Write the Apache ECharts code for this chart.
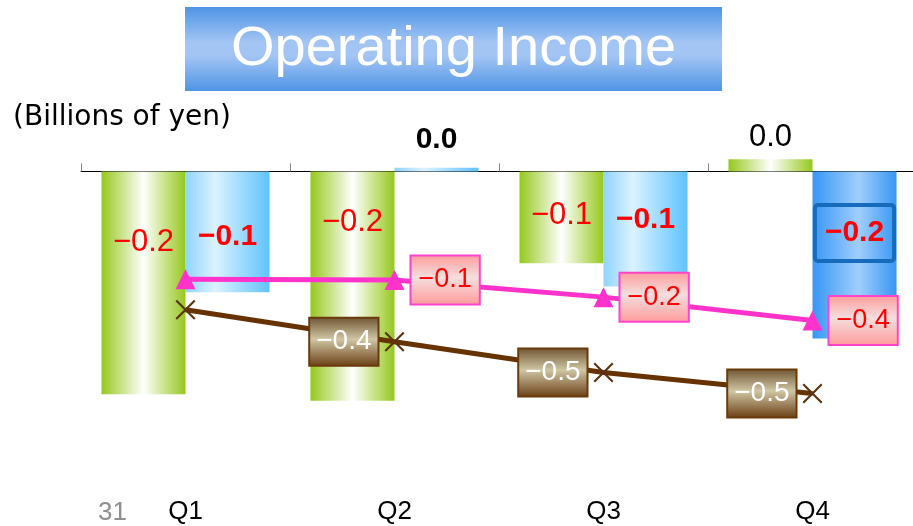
<!DOCTYPE html>
<html><head><meta charset="utf-8">
<script src="https://cdn.jsdelivr.net/npm/echarts@6/dist/echarts.min.js"></script>
<style>html,body{margin:0;padding:0;background:#fff}#c{width:913px;height:526px}</style>
</head><body><div id="c"></div>
<script>
// ---- data ----
const categories = ['Q1', 'Q2', 'Q3', 'Q4'];
const greenValues = [-0.24, -0.247, -0.099, 0.013];
const blueValues = [-0.13, 0.004, -0.124, -0.18];
const pinkValues = [-0.14, -0.145, -0.24, -0.37];
const brownValues = [-0.25, -0.36, -0.466, -0.538];
const pinkLabelShown = [false, true, true, true];
const brownLabelShown = [false, true, true, true];
const titleText = 'Operating Income';
const unitText = '(Billions of yen)';
const pageNumber = '31';

// ---- styles ----
const FONT = '"Liberation Sans", Arial, sans-serif';
const greenLabelShift = [-40, -64, -2, -28];
const blueLabelShift = [5, -30, -9, -22];
const fmt = v => (v < -0.0499 ? '\u2212' : '') + Math.abs(v).toFixed(1);
const isZero = v => Math.abs(v) < 0.05;

const hGrad = stops => ({type: 'linear', x: 0, y: 0, x2: 1, y2: 0,
  colorStops: stops.map(s => ({offset: s[0], color: s[1]}))});
const vGrad = stops => ({type: 'linear', x: 0, y: 0, x2: 0, y2: 1,
  colorStops: stops.map(s => ({offset: s[0], color: s[1]}))});

const greenFill = hGrad([[0, '#96c81e'], [0.5, '#ffffff'], [1, '#96c81e']]);
const blueFill = hGrad([[0, '#8fd4fc'], [0.35, '#dbf2fe'], [1, '#5fc3fd']]);
const blueStrongFill = hGrad([[0, '#3797f4'], [0.55, '#a0cefb'], [1, '#3797f4']]);
const pinkBox = vGrad([[0, '#ff9a9a'], [0.45, '#f5dede'], [1, '#ff9a9a']]);
const brownBox = vGrad([[0, '#6e5230'], [0.45, '#cfc6a4'], [1, '#6a3d12']]);

const greenData = greenValues.map((v, i) => ({
  value: v,
  label: {offset: [0, greenLabelShift[i]], color: isZero(v) ? '#000' : '#ff0000'}
}));
const blueData = blueValues.map((v, i) => {
  const item = {
    value: v,
    label: {offset: [0, blueLabelShift[i]], color: isZero(v) ? '#000' : '#ff0000'}
  };
  if (i === 3) {
    item.itemStyle = {color: blueStrongFill};
    Object.assign(item.label, {borderColor: '#176bbd', borderWidth: 4, borderRadius: 3, padding: [13, 10]});
  }
  return item;
});
const pinkData = pinkValues.map((v, i) => ({value: v, label: {show: pinkLabelShown[i]}}));
const brownData = brownValues.map((v, i) => ({value: v, label: {show: brownLabelShown[i]}}));

const xMark = 'path://M0,1.5L1.5,0L10,8.5L18.5,0L20,1.5L11.5,10L20,18.5L18.5,20L10,11.5L1.5,20L0,18.5L8.5,10Z';

const chart = echarts.init(document.getElementById('c'), null, {renderer: 'canvas'});
chart.setOption({
  animation: false,
  backgroundColor: '#ffffff',
  grid: {left: 81, top: 125, width: 836, height: 325, outerBoundsMode: 'none', containLabel: false},
  xAxis: [
    {
      type: 'category', data: categories, position: 'bottom',
      axisLine: {show: true, onZero: true, onZeroAxisIndex: 0, lineStyle: {color: '#000', width: 1}},
      axisTick: {show: true, inside: true, length: 8, lineStyle: {color: '#888'}},
      axisLabel: {show: false}, splitLine: {show: false}
    },
    {
      type: 'category', data: categories, position: 'bottom',
      axisLine: {show: false, onZero: false}, axisTick: {show: false}, splitLine: {show: false},
      axisLabel: {show: true, margin: 49, fontSize: 26, color: '#000', fontFamily: FONT}
    }
  ],
  yAxis: [
    {type: 'value', min: -0.3, max: 0.05, show: false},
    {type: 'value', min: -1.089, max: 0.716, show: false},
    {type: 'value', min: -0.733, max: 0.387, show: false}
  ],
  series: [
    {
      type: 'bar', xAxisIndex: 0, yAxisIndex: 0, data: greenData,
      barGap: '0%', barCategoryGap: '19.6%',
      itemStyle: {color: greenFill},
      label: {show: true, position: 'inside', formatter: p => fmt(p.value),
        fontSize: 31, fontFamily: FONT, fontWeight: 'normal'}
    },
    {
      type: 'bar', xAxisIndex: 0, yAxisIndex: 0, data: blueData,
      barGap: '0%', barCategoryGap: '19.6%',
      itemStyle: {color: blueFill},
      label: {show: true, position: 'inside', formatter: p => fmt(p.value),
        fontSize: 30, fontFamily: FONT, fontWeight: 'bold'}
    },
    {
      type: 'line', xAxisIndex: 0, yAxisIndex: 1, data: pinkData,
      symbol: 'triangle', symbolSize: 20,
      lineStyle: {color: '#ff33cc', width: 5}, itemStyle: {color: '#ff33cc'},
      label: {position: 'right', distance: 7, formatter: p => fmt(p.value),
        fontSize: 27, fontFamily: FONT, color: '#ff0000',
        backgroundColor: pinkBox, borderColor: '#ff44cc', borderWidth: 2, padding: [10, 7]}
    },
    {
      type: 'line', xAxisIndex: 0, yAxisIndex: 2, data: brownData,
      symbol: xMark, symbolSize: 20,
      lineStyle: {color: '#663300', width: 5}, itemStyle: {color: '#5a3310'},
      label: {position: 'left', distance: 7, formatter: p => fmt(p.value),
        fontSize: 28, fontFamily: FONT, color: '#ffffff',
        backgroundColor: brownBox, borderColor: '#6a3a0a', borderWidth: 2, padding: [9, 6]}
    }
  ],
  graphic: [
    {type: 'rect', shape: {x: 185, y: 7, width: 537, height: 84},
      style: {fill: vGrad([[0, '#4f94e5'], [0.42, '#a3c5f4'], [0.58, '#a3c5f4'], [1, '#4f94e5']])}},
    {type: 'text', x: 453.5, y: 50,
      style: {text: titleText, fill: '#ffffff', font: '56px ' + FONT, textAlign: 'center', textVerticalAlign: 'middle'}},
    {type: 'text', x: 13, y: 118,
      style: {text: unitText, fill: '#000', font: '28px "DejaVu Sans", sans-serif', textAlign: 'left', textVerticalAlign: 'middle'}},
    {type: 'text', x: 98, y: 513,
      style: {text: pageNumber, fill: '#8f8f8f', font: '26px ' + FONT, textAlign: 'left', textVerticalAlign: 'middle'}}
  ]
});
</script>
</body></html>
